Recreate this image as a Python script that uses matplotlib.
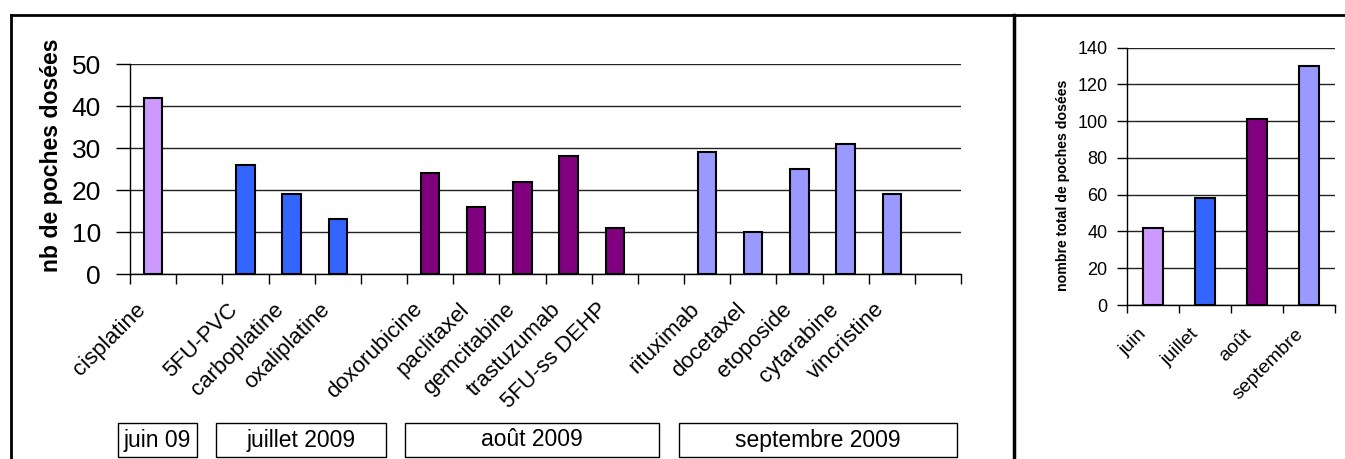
import matplotlib
matplotlib.use("Agg")
import matplotlib.pyplot as plt
from matplotlib.lines import Line2D
from matplotlib.patches import Rectangle

plt.rcParams["font.family"] = ["Liberation Sans", "DejaVu Sans"]

# per-drug data ("" = empty slot between months)
drugs = ["cisplatine", "", "5FU-PVC", "carboplatine", "oxaliplatine", "",
         "doxorubicine", "paclitaxel", "gemcitabine", "trastuzumab", "5FU-ss DEHP", "",
         "rituximab", "docetaxel", "etoposide", "cytarabine", "vincristine", ""]
doses = [42, 0, 26, 19, 13, 0, 24, 16, 22, 28, 11, 0, 29, 10, 25, 31, 19, 0]
drug_month = [0, -1, 1, 1, 1, -1, 2, 2, 2, 2, 2, -1, 3, 3, 3, 3, 3, -1]

# monthly totals
months = ["juin", "juillet", "août", "septembre"]
totals = [42, 58, 101, 130]
month_boxes = ["juin 09", "juillet 2009", "août 2009", "septembre 2009"]

month_colors = ["#CC99FF", "#3366FF", "#800080", "#9999FF"]

W, H = 1345, 459
fig = plt.figure(figsize=(W / 100, H / 100), dpi=100)


def fx(px):
    return px / W


def fy(py):
    return 1 - py / H


def style_axes(ax):
    for s in ("top", "right"):
        ax.spines[s].set_visible(False)
    for s in ("left", "bottom"):
        ax.spines[s].set_color("black")
        ax.spines[s].set_linewidth(1.0)
    ax.yaxis.grid(True, color="#222222", linewidth=1.0)
    ax.set_axisbelow(True)
    ax.set_facecolor("none")


def category_axis(ax, labels, fontsize, pad, shift):
    n = len(labels)
    ax.set_xlim(-0.5, n - 0.5)
    # labels sit slightly left of the category centre, like Excel's 45° labels
    ax.set_xticks([i - shift for i in range(n)])
    ax.set_xticklabels(labels, rotation=45, ha="right", va="top",
                       rotation_mode="anchor", fontsize=fontsize)
    ax.tick_params(axis="x", which="major", length=0, pad=pad)
    ax.set_xticks([i - 0.5 for i in range(n + 1)], minor=True)
    ax.tick_params(axis="x", which="minor", direction="out", length=7, width=1)


# ---- left chart: doses per drug ----
ax = fig.add_axes([fx(130), fy(274), fx(961 - 130), (274 - 64) / H])
pos = [i for i, d in enumerate(drugs) if d]
ax.bar(pos, [doses[i] for i in pos], width=0.4,
       color=[month_colors[drug_month[i]] for i in pos],
       edgecolor="black", linewidth=1.5, zorder=3)
ax.set_ylim(0, 50)
ax.set_yticks(range(0, 51, 10))
ax.tick_params(axis="y", labelsize=19, direction="out", length=10, width=1, pad=11)
category_axis(ax, drugs, 16, 18, 0.39)
style_axes(ax)

fig.text(fx(52), fy(155), "nb de poches dosées", rotation=90, fontsize=16.6,
         fontweight="bold", ha="center", va="center")

# month boxes under the drug labels
box_spans = [(118, 197), (216, 386), (405, 659), (679, 957)]
for (x0, x1), txt in zip(box_spans, month_boxes):
    fig.patches.append(Rectangle((fx(x0), fy(457)), fx(x1 - x0), (457 - 423) / H,
                                 transform=fig.transFigure, facecolor="white",
                                 edgecolor="black", linewidth=1.0))
    fig.text(fx((x0 + x1) / 2), fy(440), txt, fontsize=16.5, ha="center", va="center")

# ---- right chart: monthly totals ----
ax2 = fig.add_axes([fx(1127), fy(305), fx(1335 - 1127), (305 - 47.7) / H])
ax2.bar(range(len(months)), totals, width=0.4, color=month_colors,
        edgecolor="black", linewidth=1.5, zorder=3)
ax2.set_ylim(0, 140)
ax2.set_yticks(range(0, 141, 20))
ax2.tick_params(axis="y", labelsize=13, direction="out", length=7, width=1, pad=7)
category_axis(ax2, months, 14, 15, 0.28)
ax2.tick_params(axis="x", which="minor", length=6)
style_axes(ax2)

fig.text(fx(1063), fy(185), "nombre total de poches dosées", rotation=90, fontsize=10.2,
         fontweight="bold", ha="center", va="center")

# outer frame lines
fig.lines.append(Line2D([fx(11), 1], [fy(15), fy(15)], transform=fig.transFigure,
                        color="black", linewidth=2))
fig.lines.append(Line2D([fx(11), fx(11)], [fy(15), 0], transform=fig.transFigure,
                        color="black", linewidth=2))
fig.lines.append(Line2D([fx(1014), fx(1014)], [fy(15), 0], transform=fig.transFigure,
                        color="black", linewidth=2.5))

fig.savefig("out.png", dpi=100)
